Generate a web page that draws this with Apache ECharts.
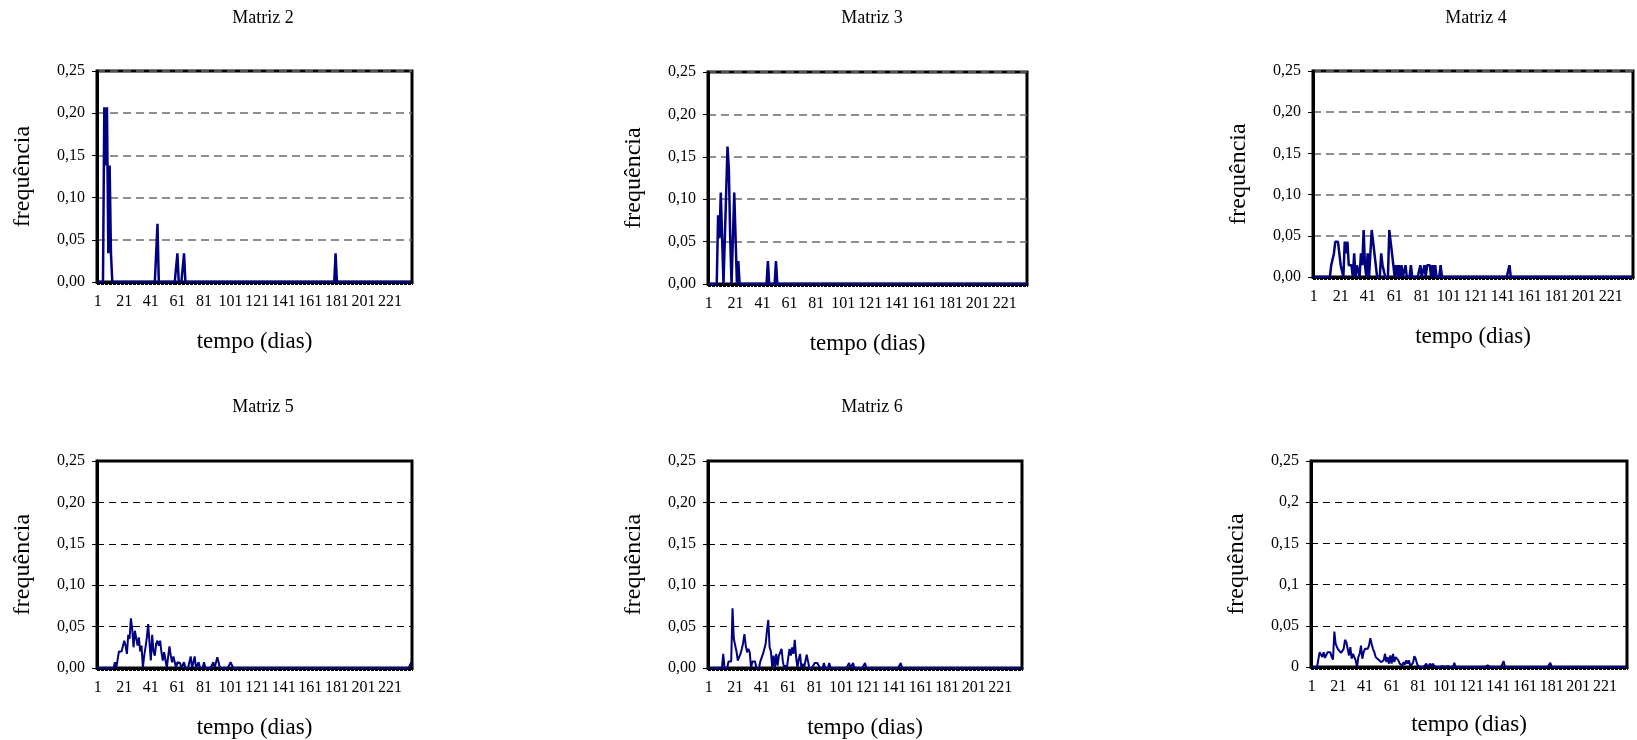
<!DOCTYPE html>
<html>
<head>
<meta charset="utf-8">
<script src="https://cdn.jsdelivr.net/npm/echarts@6/dist/echarts.min.js"></script>
<style>
html,body{margin:0;padding:0;background:#fff;}
#chart{width:1637px;height:740px;}
</style>
</head>
<body>
<div id="chart"></div>
<script>
// ---- data (day index, frequency); days not listed are 0 ----
const nDays = 237;
const titles = ['Matriz 2', 'Matriz 3', 'Matriz 4', 'Matriz 5', 'Matriz 6', ''];
const yTicksA = ['0,00', '0,05', '0,10', '0,15', '0,20', '0,25'];
const yTicksB = ['0', '0,05', '0,1', '0,15', '0,2', '0,25'];

const matriz2 = [[6,0.207],[7,0.138],[8,0.207],[9,0.034],[10,0.138],[11,0.034],[45,0.034],[46,0.069],[61,0.034],[66,0.034],[180,0.034]];

const matriz3 = [[8,0.081],[9,0.054],[10,0.108],[11,0.054],[13,0.054],[14,0.108],[15,0.162],[16,0.135],[17,0.054],[19,0.054],[20,0.108],[21,0.054],[23,0.027],[45,0.027],[51,0.027]];

const matriz4 = [[14,0.0143],[15,0.0143],[16,0.0286],[17,0.0429],[18,0.0429],[19,0.0429],[20,0.0286],[21,0.0143],[22,0.0143],[24,0.0429],[25,0.0286],[26,0.0429],[27,0.0143],[28,0.0143],[29,0.0143],[31,0.0286],[33,0.0143],[34,0.0143],[36,0.0286],[37,0.0143],[38,0.0571],[39,0.0143],[41,0.0286],[44,0.0571],[45,0.0429],[46,0.0286],[47,0.0286],[51,0.0286],[52,0.0143],[53,0.0143],[57,0.0571],[58,0.0429],[59,0.0286],[60,0.0143],[62,0.0143],[64,0.0143],[66,0.0143],[69,0.0143],[73,0.0143],[80,0.0143],[83,0.0143],[85,0.0143],[86,0.0143],[87,0.0143],[89,0.0143],[91,0.0143],[95,0.0143],[146,0.0143]];

const matriz5 = [[14,0.007],[17,0.02],[18,0.02],[19,0.02],[20,0.02],[21,0.033],[22,0.027],[23,0.017],[24,0.04],[25,0.035],[26,0.06],[27,0.047],[28,0.025],[29,0.045],[30,0.044],[31,0.027],[32,0.037],[33,0.02],[34,0.027],[36,0.015],[37,0.025],[38,0.037],[39,0.053],[40,0.03],[41,0.009],[42,0.04],[43,0.02],[44,0.015],[45,0.029],[46,0.033],[47,0.027],[48,0.033],[49,0.019],[50,0.009],[51,0.019],[52,0.01],[55,0.026],[56,0.015],[57,0.007],[58,0.014],[59,0.007],[61,0.007],[62,0.007],[63,0.006],[66,0.007],[71,0.014],[74,0.014],[77,0.007],[81,0.007],[88,0.007],[91,0.013],[92,0.007],[101,0.007],[102,0.007],[237,0.007]];

const matriz6 = [[12,0.017],[16,0.008],[17,0.008],[18,0.008],[19,0.072],[20,0.035],[21,0.034],[22,0.02],[23,0.009],[24,0.013],[25,0.017],[26,0.023],[27,0.03],[28,0.041],[29,0.027],[30,0.019],[31,0.023],[32,0.019],[34,0.008],[35,0.008],[36,0.008],[40,0.008],[41,0.008],[42,0.017],[43,0.017],[44,0.029],[45,0.045],[46,0.058],[47,0.025],[48,0.02],[50,0.015],[52,0.017],[53,0.003],[54,0.015],[55,0.019],[56,0.023],[57,0.008],[59,0.003],[62,0.023],[63,0.015],[64,0.025],[65,0.017],[66,0.034],[67,0.013],[69,0.011],[70,0.017],[72,0.005],[75,0.016],[76,0.008],[81,0.006],[82,0.006],[83,0.006],[84,0.006],[88,0.006],[92,0.006],[107,0.006],[110,0.006],[119,0.006],[146,0.006]];

const matriz7 = [[7,0.018],[8,0.016],[9,0.012],[10,0.018],[11,0.011],[12,0.01],[13,0.018],[14,0.02],[15,0.018],[16,0.012],[17,0.009],[18,0.043],[19,0.028],[20,0.024],[21,0.021],[22,0.02],[23,0.017],[24,0.018],[25,0.022],[26,0.033],[27,0.03],[28,0.028],[29,0.014],[30,0.024],[31,0.01],[32,0.016],[33,0.012],[34,0.008],[36,0.012],[37,0.016],[38,0.026],[39,0.01],[40,0.018],[41,0.022],[42,0.024],[43,0.022],[44,0.026],[45,0.035],[46,0.028],[47,0.022],[48,0.018],[49,0.012],[50,0.01],[51,0.009],[52,0.008],[53,0.006],[54,0.004],[55,0.008],[56,0.016],[57,0.006],[58,0.012],[59,0.004],[60,0.014],[61,0.004],[62,0.016],[63,0.006],[64,0.012],[65,0.01],[66,0.008],[67,0.004],[68,0.005],[69,0.002],[70,0.006],[71,0.003],[72,0.008],[73,0.004],[74,0.008],[75,0.001],[76,0.002],[77,0.005],[78,0.013],[79,0.01],[80,0.004],[81,0.001],[82,0.002],[84,0.001],[86,0.002],[87,0.004],[89,0.002],[90,0.004],[91,0.001],[92,0.004],[93,0.001],[99,0.001],[103,0.001],[106,0.002],[108,0.005],[118,0.002],[122,0.002],[128,0.002],[133,0.002],[138,0.002],[145,0.007],[151,0.002],[157,0.002],[180,0.005]];

const seriesData = [matriz2, matriz3, matriz4, matriz5, matriz6, matriz7];

// ---- layout ----
const layout = [
  {left:97,  top:71,  width:315, height:211, grid:'#6a6a6a', dash:[8,5], gw:1.5, lw:2.5, tick:yTicksA, tx:263,  ty:18,  yGap:62, xGap:48},
  {left:708, top:72,  width:319, height:212, grid:'#6a6a6a', dash:[8,5], gw:1.5, lw:2.5, tick:yTicksA, tx:872,  ty:18,  yGap:62, xGap:48},
  {left:1313,top:71,  width:320, height:206, grid:'#6a6a6a', dash:[8,5], gw:1.5, lw:2.5, tick:yTicksA, tx:1476, ty:18,  yGap:62, xGap:48},
  {left:97,  top:461, width:315, height:208, grid:'#000000', dash:[7,5], gw:1.2, lw:2,   tick:yTicksA, tx:263,  ty:407, yGap:62, xGap:48},
  {left:708, top:461, width:314, height:208, grid:'#000000', dash:[7,5], gw:1.2, lw:2,   tick:yTicksA, tx:872,  ty:407, yGap:62, xGap:48},
  {left:1311,top:461, width:316, height:206, grid:'#000000', dash:[7,5], gw:1.2, lw:2,   tick:yTicksB, tx:1469, ty:407, yGap:62, xGap:46}
];

const days = [];
for (let d = 1; d <= nDays; d++) days.push(String(d));

function expand(pairs) {
  const arr = new Array(nDays).fill(0);
  pairs.forEach(([d, v]) => { arr[d - 1] = v; });
  return arr;
}

const FONT = '"Liberation Serif", "Times New Roman", serif';

const option = {
  animation: false,
  backgroundColor: '#ffffff',
  grid: layout.map(L => ({
    left: L.left, top: L.top, width: L.width, height: L.height,
    show: true, borderColor: '#000', borderWidth: 3, backgroundColor: 'transparent'
  })),
  xAxis: layout.map((L, i) => ({
    gridIndex: i, type: 'category', data: days, boundaryGap: true,
    axisLine: { show: true, lineStyle: { color: '#000', width: 3 } },
    axisTick: { show: true, interval: 0, length: 3, lineStyle: { color: '#000', width: 1 } },
    axisLabel: { interval: 19, fontFamily: FONT, fontSize: 16, color: '#000', margin: 12 },
    splitLine: { show: false },
    name: 'tempo (dias)', nameLocation: 'middle', nameGap: L.xGap,
    nameTextStyle: { fontFamily: FONT, fontSize: 23, color: '#000' }
  })),
  yAxis: layout.map((L, i) => ({
    gridIndex: i, type: 'value', min: 0, max: 0.25, interval: 0.05,
    axisLine: { show: true, lineStyle: { color: '#000', width: 3 } },
    axisTick: { show: true, length: 5, lineStyle: { color: '#000', width: 1 } },
    axisLabel: {
      fontFamily: FONT, fontSize: 16, color: '#000', margin: 12,
      formatter: v => L.tick[Math.round(v / 0.05)]
    },
    splitLine: { show: true, lineStyle: { type: L.dash, color: L.grid, width: L.gw } },
    name: 'frequência', nameLocation: 'middle', nameGap: L.yGap,
    nameTextStyle: { fontFamily: FONT, fontSize: 24, color: '#000' }
  })),
  series: seriesData.map((d, i) => ({
    type: 'line', xAxisIndex: i, yAxisIndex: i, data: expand(d),
    showSymbol: false, symbol: 'none', silent: true,
    lineStyle: { color: '#000080', width: layout[i].lw }
  })),
  graphic: layout.map((L, i) => ({
    type: 'text', x: L.tx, y: L.ty, silent: true,
    style: { text: titles[i], fill: '#000', font: '18px ' + FONT, align: 'center', verticalAlign: 'middle' }
  }))
};

const chart = echarts.init(document.getElementById('chart'), null, { renderer: 'canvas' });
chart.setOption(option);
</script>
</body>
</html>
